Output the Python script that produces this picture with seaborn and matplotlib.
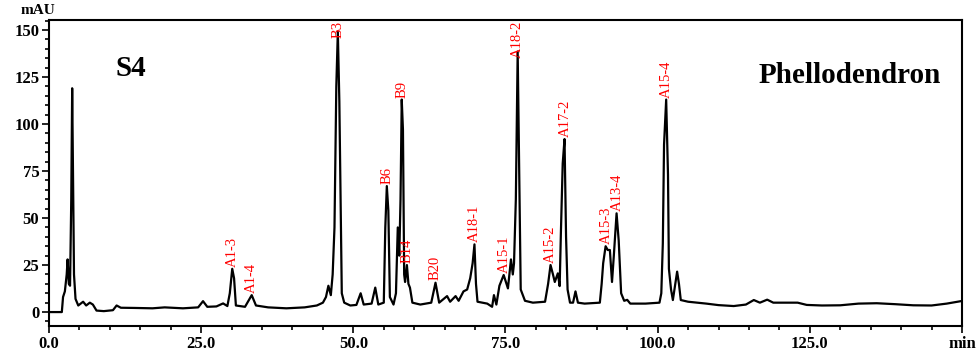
import pandas as pd
import matplotlib.pyplot as plt
import seaborn as sns
from matplotlib.ticker import MultipleLocator

tiempo = [0, 2.1, 2.3, 2.6, 2.9, 3.05, 3.25, 3.45, 3.65, 3.8, 3.95, 4.1, 4.35, 4.8,
          5.6, 6.1, 6.7, 7.2, 7.8, 9.0, 10.5, 11.1, 11.8, 14, 17, 19, 22, 24.5,
          25.3, 26.0, 27.5, 28.6, 29.3, 29.7, 30.1, 30.4, 30.7, 32.2, 33.3, 34.0,
          36, 39, 42, 44, 45.0, 45.5, 45.9, 46.3, 46.6, 46.9, 47.2, 47.45, 47.7,
          47.9, 48.1, 48.5, 49.5, 50.5, 51.2, 51.7, 53.0, 53.6, 54.1, 55.0, 55.25,
          55.5, 55.75, 56.0, 56.6, 57.0, 57.3, 57.55, 57.75, 57.95, 58.15, 58.35,
          58.5, 58.8, 59.05, 59.3, 59.7, 61, 62.8, 63.5, 64.1, 65.4, 65.9, 66.8,
          67.3, 68.1, 68.7, 69.2, 69.6, 69.9, 70.15, 70.4, 72.0, 72.8, 73.1, 73.5,
          74.0, 74.7, 75.4, 75.9, 76.2, 76.4, 76.7, 77.0, 77.3, 77.5, 78.2, 79.5,
          81.5, 82.0, 82.4, 82.8, 83.1, 83.6, 83.9, 84.1, 84.4, 84.7, 84.95, 85.2,
          85.6, 86.1, 86.5, 86.9, 88, 90.5, 90.8, 91.05, 91.45, 91.8, 92.15, 92.5,
          92.8, 93.25, 93.6, 94.0, 94.5, 95.0, 95.5, 98, 100.3, 100.6, 100.85,
          101.05, 101.4, 101.7, 101.85, 102.2, 102.5, 102.9, 103.2, 103.5, 103.8,
          105, 108, 110, 112.5, 114.5, 115.8, 116.8, 118, 119, 123, 124.5, 127,
          130, 133, 136, 139, 142, 145, 147.5, 150]
senal = [0, 0, 8, 11, 20, 28, 15, 14, 60, 119, 72, 20, 7, 3.5,
         5.5, 3.5, 5, 4, 0.8, 0.5, 1.0, 3.5, 2.3, 2.2, 2.0, 2.5, 2.0, 2.5,
         5.8, 2.8, 3.0, 4.6, 3.2, 10, 23, 18, 3.5, 2.8, 9, 3.5,
         2.5, 2.0, 2.5, 3.5, 5, 8, 14, 9, 20, 45, 120, 149, 112,
         60, 10, 5, 3.5, 3.8, 10, 4, 4.5, 13, 4, 5, 45,
         67, 54, 8, 4, 10, 45, 30, 60, 113, 97, 20,
         16, 25, 15, 13, 5, 4, 5, 15.6, 5, 8.5, 5.5, 8.5,
         6, 11, 12, 18, 26, 36, 15, 5.5, 4.5, 2.8, 9, 4,
         14, 19.7, 12.6, 28, 20, 26, 60, 138.5, 60, 12, 6, 5,
         5.5, 15, 25, 20, 16, 20.6, 13.8, 42, 79, 92, 40, 12,
         5, 5, 11, 5, 4.5, 5, 15, 26, 35, 33, 33, 16,
         30, 52.5, 38, 10, 6, 6.5, 4.5, 4.5, 5, 10, 36.5,
         89, 113, 73, 23, 12, 6.4, 15, 21.5, 15, 6.4,
         5.5, 4.5, 3.7, 3.2, 4, 6.4, 5, 6.6, 5, 5, 3.8, 3.5,
         3.6, 4.5, 4.7, 4.2, 3.6, 3.5, 4.5, 5.9]

# Etiquetas de picos (nombre, tiempo, altura base de la etiqueta)
picos = ["A1-3", "A1-4", "B3", "B6", "B9", "B14", "B20", "A18-1", "A15-1",
         "A18-2", "A15-2", "A17-2", "A15-3", "A13-4", "A15-4"]
picos_t = [30.2, 33.3, 47.5, 55.5, 58.0, 58.8, 63.5, 69.9, 74.8,
           77.0, 82.4, 84.8, 91.5, 93.3, 101.4]
picos_y = [24, 10, 155, 68, 114, 26, 17, 37, 21,
           155, 26, 93, 36, 54, 114]

x_ticks = [0, 25, 50, 75, 100, 125, 150]
x_labels = ["0.0", "25.0", "50.0", "75.0", "100.0", "125.0", "min"]
y_ticks = [0, 25, 50, 75, 100, 125, 150]

df = pd.DataFrame({"t": tiempo, "mAU": senal})

sns.set_style("ticks")
plt.rcParams["font.family"] = ["Liberation Serif", "DejaVu Serif"]
plt.rcParams["text.color"] = "black"
plt.rcParams["xtick.color"] = "black"
plt.rcParams["ytick.color"] = "black"
plt.rcParams["axes.edgecolor"] = "black"

fig = plt.figure(figsize=(9.77, 3.5), dpi=100)
ax = fig.add_axes([0.0502, 0.0686, 0.9344, 0.8743])

sns.lineplot(data=df, x="t", y="mAU", estimator=None, sort=False,
             color="black", linewidth=1.6, ax=ax)

for nombre, t, y in zip(picos, picos_t, picos_y):
    va = "top" if y > 150 else "bottom"
    ax.text(t, y, nombre, rotation=90, color="red", fontsize=10.5,
            ha="center", va=va)

ax.set_xlim(0, 150)
ax.set_ylim(-7.4, 155.3)
ax.set_xticks(x_ticks)
ax.set_xticklabels(x_labels, fontweight="bold", fontsize=12)
ax.set_yticks(y_ticks)
ax.set_yticklabels([str(v) for v in y_ticks], fontweight="bold", fontsize=12)
ax.xaxis.set_minor_locator(MultipleLocator(5))
ax.yaxis.set_minor_locator(MultipleLocator(5))
ax.tick_params(which="major", length=5, width=1.2, direction="out", pad=2)
ax.tick_params(which="minor", length=3, width=1.2, direction="out")
for s in ax.spines.values():
    s.set_linewidth(1.5)
ax.set_xlabel("")
ax.set_ylabel("")

ax.text(0.09, 0.84, "S4", transform=ax.transAxes, fontsize=21,
        fontweight="bold", ha="center", va="center")
ax.text(0.877, 0.82, "Phellodendron", transform=ax.transAxes, fontsize=21,
        fontweight="bold", ha="center", va="center")
fig.text(0.039, 0.97, "mAU", fontsize=11, fontweight="bold", ha="center",
         va="center")

plt.savefig("out.png", dpi=100)
